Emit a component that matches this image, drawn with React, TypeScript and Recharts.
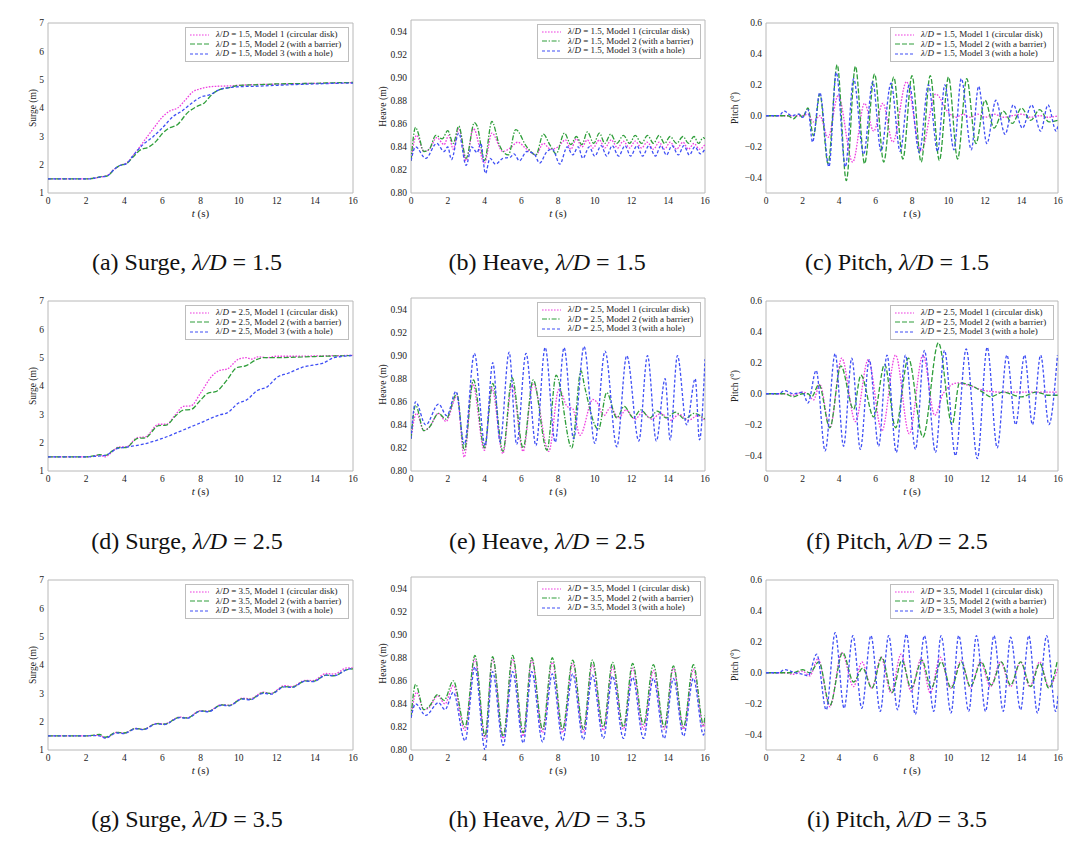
import React from 'react';
import { LineChart, Line, XAxis, YAxis, ReferenceArea, Legend } from 'recharts';

type Pt = [number, number];

// time axis
const xTicks = [0, 2, 4, 6, 8, 10, 12, 14, 16];
const surgeTicks = [1, 2, 3, 4, 5, 6, 7];
const heaveTicks = [0.8, 0.82, 0.84, 0.86, 0.88, 0.9, 0.92, 0.94];
const pitchTicks = [-0.4, -0.2, 0, 0.2, 0.4, 0.6];

const ratios = ['1.5', '2.5', '3.5'];
const letters = ['a', 'b', 'c', 'd', 'e', 'f', 'g', 'h', 'i'];
const modelNames = ['Model 1 (circular disk)', 'Model 2 (with a barrier)', 'Model 3 (with a hole)'];

// ---- lambda/D = 1.5 ----
const s15m1: Pt[] = [[0,1.5],[1,1.5],[2,1.5],[2.4,1.52],[2.8,1.57],[3.1,1.62],[3.5,1.85],[3.8,1.98],[4.1,2.05],[4.5,2.35],[5,2.8],[5.5,3.25],[6,3.68],[6.4,3.9],[6.8,4.0],[7.2,4.28],[7.6,4.57],[8,4.68],[8.5,4.75],[9,4.77],[9.5,4.78],[10,4.8],[11,4.83],[12,4.84],[13,4.86],[14,4.87],[15,4.88],[16,4.9]];
const s15m2: Pt[] = [[0,1.5],[1,1.5],[2,1.5],[2.4,1.52],[2.8,1.58],[3.1,1.6],[3.5,1.85],[3.8,1.98],[4.1,2.03],[4.5,2.3],[4.8,2.5],[5.3,2.63],[5.7,2.85],[6,3.1],[6.3,3.27],[6.8,3.42],[7.3,3.82],[7.8,4.05],[8.2,4.18],[8.6,4.48],[9,4.65],[9.5,4.72],[10,4.8],[11,4.82],[12,4.85],[13,4.86],[14,4.87],[15,4.89],[16,4.9]];
const s15m3: Pt[] = [[0,1.5],[1,1.5],[2,1.5],[2.4,1.52],[2.8,1.57],[3.1,1.6],[3.5,1.85],[3.8,1.98],[4.1,2.03],[4.5,2.35],[5,2.72],[5.5,2.98],[6,3.3],[6.6,3.72],[7,3.88],[7.5,4.15],[8,4.38],[8.5,4.47],[9,4.65],[9.5,4.72],[10,4.75],[11,4.77],[12,4.8],[13,4.83],[14,4.85],[15,4.87],[16,4.88]];

const h15m1: Pt[] = [[0,0.828],[0.3,0.85],[0.7,0.836],[1.0,0.838],[1.4,0.848],[1.8,0.842],[2.05,0.85],[2.3,0.838],[2.6,0.856],[3.0,0.828],[3.4,0.856],[4.0,0.826],[4.4,0.852],[5.0,0.836],[5.4,0.839],[5.8,0.844],[6.3,0.838],[6.8,0.833],[7.2,0.843],[7.6,0.838],[8.0,0.84],[8.4,0.846],[8.7,0.838],[9.0,0.847],[9.3,0.84],[9.6,0.846],[9.9,0.839],[10.25,0.846],[10.55,0.839],[10.9,0.846],[11.25,0.839],[11.55,0.845],[11.9,0.839],[12.2,0.845],[12.55,0.839],[12.85,0.844],[13.2,0.838],[13.5,0.844],[13.8,0.838],[14.1,0.844],[14.45,0.838],[14.8,0.844],[15.1,0.838],[15.4,0.843],[15.7,0.838],[16,0.842]];
const h15m2: Pt[] = [[0,0.828],[0.25,0.857],[0.35,0.854],[0.7,0.836],[1.0,0.838],[1.35,0.85],[1.7,0.847],[2.0,0.854],[2.3,0.843],[2.6,0.858],[3.0,0.83],[3.45,0.861],[3.6,0.858],[4.0,0.828],[4.4,0.862],[4.8,0.842],[5.3,0.833],[5.7,0.855],[6.3,0.84],[6.8,0.833],[7.2,0.851],[7.55,0.842],[7.9,0.834],[8.35,0.852],[8.7,0.842],[9.0,0.849],[9.3,0.842],[9.6,0.853],[9.95,0.843],[10.25,0.852],[10.55,0.843],[10.87,0.851],[11.2,0.843],[11.56,0.85],[11.9,0.843],[12.2,0.85],[12.55,0.843],[12.87,0.85],[13.2,0.843],[13.5,0.85],[13.8,0.843],[14.1,0.849],[14.45,0.843],[14.8,0.849],[15.1,0.843],[15.4,0.849],[15.65,0.843],[15.9,0.848],[16,0.847]];
const h15m3: Pt[] = [[0,0.828],[0.25,0.84],[0.8,0.83],[1.4,0.843],[1.8,0.836],[2.0,0.84],[2.2,0.829],[2.6,0.852],[3.0,0.824],[3.3,0.84],[3.6,0.835],[3.8,0.843],[4.05,0.817],[4.3,0.83],[4.6,0.825],[5.0,0.83],[5.4,0.831],[5.6,0.834],[5.9,0.828],[6.3,0.836],[6.7,0.834],[7.0,0.826],[7.4,0.836],[7.7,0.838],[8.1,0.825],[8.5,0.84],[8.8,0.833],[9.1,0.84],[9.35,0.83],[9.7,0.84],[10.0,0.832],[10.35,0.841],[10.65,0.832],[10.95,0.841],[11.3,0.832],[11.65,0.841],[11.95,0.832],[12.3,0.841],[12.6,0.832],[12.95,0.841],[13.3,0.832],[13.6,0.841],[13.9,0.833],[14.2,0.841],[14.55,0.833],[14.85,0.841],[15.15,0.833],[15.45,0.84],[15.75,0.834],[16,0.838]];

const p15m1: Pt[] = [[0,0],[1,0],[2,0],[2.3,0.01],[2.6,-0.04],[2.95,0.0],[3.4,-0.14],[3.95,0.13],[4.75,-0.3],[5.4,0.08],[5.9,-0.1],[6.4,0.08],[6.95,-0.17],[7.7,0.22],[8.5,-0.23],[9.3,0.14],[10.0,0.02],[10.4,-0.01],[10.8,0.01],[11.2,-0.01],[11.6,0.01],[12,-0.01],[12.5,0.01],[13,-0.01],[13.5,0.0],[14,0.01],[14.5,-0.01],[15,0.0],[15.5,-0.01],[16,0.0]];
const p15m2: Pt[] = [[0,0],[1.2,0],[1.5,-0.02],[1.8,0.01],[2.0,-0.01],[2.3,0.05],[2.6,-0.13],[2.95,0.14],[3.4,-0.31],[3.9,0.33],[4.4,-0.42],[4.9,0.32],[5.4,-0.31],[5.95,0.27],[6.45,-0.3],[7.0,0.25],[7.5,-0.28],[8.0,0.26],[8.5,-0.3],[9.0,0.26],[9.5,-0.29],[10.0,0.25],[10.5,-0.28],[11.0,0.24],[11.5,-0.18],[12.0,0.1],[12.5,-0.08],[13.0,0.03],[13.5,-0.05],[14.0,0.05],[14.5,-0.03],[15.0,0.04],[15.5,-0.04],[16,-0.03]];
const p15m3: Pt[] = [[0,0],[0.7,0.0],[1.0,0.03],[1.4,0.0],[1.8,0.01],[2.0,-0.01],[2.3,0.04],[2.55,-0.17],[2.95,0.15],[3.45,-0.33],[3.85,0.28],[4.35,-0.33],[4.8,0.24],[5.35,-0.25],[5.85,0.22],[6.3,-0.23],[6.85,0.21],[7.35,-0.23],[7.85,0.2],[8.4,-0.24],[8.9,0.2],[9.4,-0.23],[9.8,0.2],[10.3,-0.22],[10.7,0.24],[11.25,-0.22],[11.65,0.19],[12.1,-0.18],[12.6,0.1],[13.1,-0.12],[13.55,0.07],[14.05,-0.08],[14.55,0.07],[15.05,-0.1],[15.45,0.07],[15.9,-0.1],[16,-0.06]];

// ---- lambda/D = 2.5 ----
const s25m1: Pt[] = [[0,1.5],[1,1.5],[2,1.5],[2.4,1.52],[2.7,1.57],[3.0,1.5],[3.4,1.7],[3.7,1.85],[4.1,1.85],[4.7,2.18],[5.1,2.2],[5.8,2.65],[6.2,2.65],[6.7,3.0],[7.1,3.28],[7.5,3.3],[8.0,3.75],[8.6,4.35],[9.0,4.55],[9.4,4.6],[10.0,4.95],[10.4,5.0],[10.7,4.95],[11.0,5.03],[11.5,5.0],[12,5.05],[13,5.05],[14,5.06],[15,5.07],[16,5.08]];
const s25m2: Pt[] = [[0,1.5],[1,1.5],[2,1.5],[2.4,1.53],[2.7,1.58],[3.0,1.55],[3.4,1.72],[3.7,1.82],[4.1,1.83],[4.7,2.15],[5.1,2.17],[5.8,2.6],[6.2,2.62],[6.7,2.95],[7.1,3.15],[7.5,3.17],[8.0,3.5],[8.4,3.75],[8.8,3.8],[9.4,4.22],[9.9,4.65],[10.4,4.72],[10.9,4.92],[11.3,5.0],[12,5.0],[13,5.02],[14,5.04],[15,5.06],[16,5.08]];
const s25m3: Pt[] = [[0,1.5],[1,1.5],[2,1.5],[2.5,1.52],[3.0,1.55],[3.6,1.78],[4.2,1.85],[5.0,1.95],[6.0,2.15],[7.0,2.42],[8.0,2.7],[9.0,2.98],[9.4,3.05],[10.0,3.4],[10.4,3.5],[11.0,3.85],[11.5,3.97],[12.0,4.3],[12.6,4.45],[13.3,4.65],[14.0,4.75],[14.4,4.8],[15.0,5.0],[15.5,5.05],[16,5.08]];

const h25m1: Pt[] = [[0,0.828],[0.3,0.85],[0.7,0.835],[1.0,0.838],[1.5,0.85],[1.9,0.843],[2.5,0.865],[2.9,0.812],[3.35,0.876],[4.0,0.818],[4.4,0.872],[5.0,0.815],[5.5,0.875],[6.1,0.817],[6.65,0.876],[7.5,0.817],[8.05,0.871],[8.5,0.856],[8.8,0.854],[9.2,0.831],[9.9,0.862],[10.1,0.86],[10.5,0.848],[10.85,0.855],[11.3,0.846],[11.7,0.853],[12.2,0.845],[12.6,0.851],[13.1,0.845],[13.6,0.85],[14.1,0.844],[14.6,0.849],[15.1,0.844],[15.6,0.848],[16,0.844]];
const h25m2: Pt[] = [[0,0.828],[0.25,0.857],[0.7,0.835],[1.0,0.838],[1.5,0.85],[1.9,0.845],[2.5,0.867],[2.9,0.818],[3.4,0.879],[4.0,0.82],[4.45,0.876],[5.0,0.817],[5.5,0.881],[6.1,0.82],[6.65,0.879],[7.4,0.818],[7.9,0.883],[8.75,0.82],[9.25,0.887],[9.45,0.873],[10.2,0.836],[10.65,0.868],[11.2,0.846],[11.6,0.856],[12.1,0.846],[12.5,0.853],[13.0,0.846],[13.4,0.852],[13.9,0.846],[14.4,0.851],[14.9,0.845],[15.4,0.85],[16,0.845]];
const h25m3: Pt[] = [[0,0.828],[0.25,0.86],[0.8,0.84],[1.5,0.858],[1.95,0.848],[2.45,0.869],[2.9,0.823],[3.45,0.902],[4.03,0.822],[4.45,0.894],[4.85,0.825],[5.34,0.903],[5.75,0.823],[6.26,0.902],[6.8,0.822],[7.3,0.907],[7.85,0.825],[8.33,0.907],[8.85,0.828],[9.42,0.908],[10.0,0.824],[10.56,0.904],[11.2,0.821],[11.74,0.9],[12.4,0.826],[12.87,0.9],[13.35,0.826],[13.83,0.88],[14.1,0.827],[14.5,0.9],[15.0,0.84],[15.47,0.88],[15.7,0.827],[16,0.897]];

const p25m1: Pt[] = [[0,0],[1,0],[1.5,-0.01],[2.0,0.01],[2.3,0.0],[2.6,-0.04],[2.95,0.06],[3.5,-0.22],[4.15,0.23],[4.9,-0.18],[5.6,0.22],[6.35,-0.24],[7.1,0.25],[7.85,-0.26],[8.6,0.25],[9.25,-0.14],[9.7,0.0],[10.5,0.07],[11.2,0.05],[12.0,0.02],[13,0.01],[14,0.01],[15,0.01],[16,0.01]];
const p25m2: Pt[] = [[0,0],[1,0],[1.5,-0.02],[2.0,0.0],[2.3,0.0],[2.5,-0.02],[2.9,0.06],[3.5,-0.22],[4.1,0.18],[4.8,-0.1],[5.2,0.12],[5.9,-0.15],[6.5,0.19],[7.1,-0.22],[7.8,0.23],[8.6,-0.28],[9.45,0.33],[10.2,-0.2],[10.6,0.07],[11.3,0.05],[12.0,0.0],[12.3,-0.02],[13.0,0.01],[13.6,-0.01],[14.0,-0.02],[14.8,0.01],[15.5,-0.01],[16,-0.01]];
const p25m3: Pt[] = [[0,0],[0.7,0],[1.0,0.02],[1.5,0.0],[2.0,0.01],[2.3,-0.06],[2.75,0.15],[3.24,-0.37],[3.79,0.26],[4.25,-0.34],[4.7,0.23],[5.17,-0.36],[5.66,0.22],[6.17,-0.34],[6.63,0.25],[7.14,-0.38],[7.64,0.25],[8.19,-0.36],[8.68,0.28],[9.29,-0.38],[9.78,0.28],[10.38,-0.4],[10.97,0.29],[11.58,-0.42],[12.12,0.3],[12.67,-0.35],[13.2,0.25],[13.68,-0.2],[14.17,0.25],[14.6,-0.2],[15.05,0.25],[15.5,-0.2],[15.97,0.25]];

// ---- lambda/D = 3.5 ----
const s35m1: Pt[] = [[0,1.5],[1,1.5],[2,1.5],[2.5,1.52],[2.7,1.53],[3.0,1.43],[3.6,1.62],[4.0,1.6],[4.6,1.76],[5.0,1.73],[5.7,1.94],[6.1,1.92],[6.9,2.16],[7.3,2.14],[8.0,2.39],[8.4,2.37],[9.1,2.6],[9.5,2.58],[10.2,2.83],[10.6,2.81],[11.3,3.04],[11.7,3.0],[12.4,3.27],[12.8,3.24],[13.5,3.46],[13.9,3.45],[14.6,3.7],[15.0,3.68],[15.7,3.9],[16,3.9]];
const s35m2: Pt[] = [[0,1.5],[1,1.5],[2,1.5],[2.5,1.53],[2.7,1.55],[3.0,1.45],[3.6,1.62],[4.0,1.6],[4.6,1.76],[5.0,1.73],[5.7,1.93],[6.1,1.91],[6.9,2.15],[7.3,2.13],[8.0,2.38],[8.4,2.36],[9.1,2.59],[9.5,2.57],[10.2,2.81],[10.6,2.79],[11.3,3.02],[11.7,2.99],[12.4,3.24],[12.8,3.22],[13.5,3.44],[13.9,3.42],[14.6,3.64],[15.0,3.62],[15.7,3.84],[16,3.86]];
const s35m3: Pt[] = [[0,1.5],[1,1.5],[2,1.5],[2.5,1.51],[2.7,1.5],[3.0,1.42],[3.6,1.6],[4.0,1.58],[4.6,1.75],[5.0,1.72],[5.7,1.92],[6.1,1.9],[6.9,2.14],[7.3,2.12],[8.0,2.37],[8.4,2.35],[9.1,2.58],[9.5,2.56],[10.2,2.8],[10.6,2.77],[11.3,3.0],[11.7,2.97],[12.4,3.23],[12.8,3.21],[13.5,3.43],[13.9,3.41],[14.6,3.64],[15.0,3.62],[15.7,3.84],[16,3.88]];

const h35m1: Pt[] = [[0,0.828],[0.3,0.85],[0.7,0.835],[1.0,0.837],[1.45,0.847],[1.85,0.84],[2.3,0.856],[2.94,0.817],[3.48,0.879],[4.03,0.81],[4.44,0.879],[5.02,0.81],[5.53,0.879],[6.11,0.812],[6.57,0.878],[7.16,0.815],[7.69,0.876],[8.25,0.815],[8.8,0.875],[9.38,0.815],[9.87,0.874],[10.47,0.817],[10.97,0.872],[11.56,0.818],[12.06,0.871],[12.65,0.818],[13.19,0.869],[13.78,0.818],[14.28,0.871],[14.83,0.818],[15.37,0.87],[15.92,0.82],[16,0.826]];
const h35m2: Pt[] = [[0,0.828],[0.25,0.857],[0.7,0.835],[1.0,0.838],[1.45,0.848],[1.8,0.843],[2.3,0.86],[2.94,0.82],[3.48,0.882],[4.03,0.812],[4.44,0.881],[5.02,0.812],[5.53,0.882],[6.11,0.815],[6.57,0.88],[7.16,0.818],[7.69,0.88],[8.25,0.818],[8.8,0.878],[9.38,0.818],[9.87,0.878],[10.47,0.82],[10.97,0.876],[11.56,0.82],[12.06,0.875],[12.65,0.822],[13.19,0.874],[13.78,0.82],[14.28,0.873],[14.83,0.82],[15.37,0.874],[15.92,0.822],[16,0.83]];
const h35m3: Pt[] = [[0,0.828],[0.25,0.84],[0.8,0.83],[1.5,0.841],[1.85,0.835],[2.3,0.85],[2.94,0.808],[3.48,0.872],[4.03,0.8],[4.44,0.868],[5.02,0.804],[5.53,0.868],[6.11,0.806],[6.57,0.868],[7.16,0.807],[7.69,0.866],[8.25,0.808],[8.8,0.866],[9.38,0.809],[9.87,0.865],[10.47,0.81],[10.97,0.864],[11.56,0.81],[12.06,0.863],[12.65,0.81],[13.19,0.862],[13.78,0.81],[14.28,0.862],[14.83,0.812],[15.37,0.862],[15.92,0.813],[16,0.818]];

const p35m1: Pt[] = [[0,0],[1,0],[1.5,-0.01],[2.0,0.01],[2.4,-0.02],[2.85,0.09],[3.5,-0.22],[4.15,0.13],[4.8,-0.09],[5.25,0.07],[5.8,-0.1],[6.3,0.1],[6.85,-0.13],[7.4,0.12],[7.95,-0.12],[8.5,0.09],[9.0,-0.13],[9.55,0.1],[10.1,-0.1],[10.7,0.08],[11.2,-0.1],[11.75,0.07],[12.3,-0.09],[12.85,0.07],[13.4,-0.09],[13.95,0.07],[14.45,-0.09],[15.0,0.07],[15.5,-0.09],[16,0.03]];
const p35m2: Pt[] = [[0,0],[1,0],[1.5,0.0],[2.0,0.02],[2.4,0.0],[2.9,0.07],[3.5,-0.21],[4.2,0.13],[4.8,-0.06],[5.3,0.03],[5.8,-0.1],[6.35,0.1],[6.9,-0.13],[7.45,0.08],[7.95,-0.1],[8.55,0.08],[9.05,-0.1],[9.6,0.07],[10.15,-0.1],[10.7,0.07],[11.2,-0.09],[11.8,0.07],[12.35,-0.08],[12.9,0.07],[13.4,-0.08],[13.95,0.07],[14.5,-0.09],[15.0,0.06],[15.5,-0.1],[15.95,0.07]];
const p35m3: Pt[] = [[0,0],[0.7,0],[1.0,0.02],[1.6,0.0],[2.0,-0.01],[2.3,-0.02],[2.78,0.12],[3.3,-0.24],[3.79,0.26],[4.28,-0.23],[4.76,0.24],[5.25,-0.23],[5.75,0.24],[6.26,-0.25],[6.72,0.24],[7.21,-0.24],[7.69,0.25],[8.18,-0.27],[8.68,0.24],[9.19,-0.25],[9.59,0.24],[10.14,-0.26],[10.56,0.24],[11.11,-0.25],[11.53,0.24],[12.03,-0.25],[12.49,0.24],[13.0,-0.25],[13.4,0.23],[13.95,-0.24],[14.4,0.24],[14.87,-0.26],[15.38,0.24],[15.87,-0.25],[16,-0.15]];

const series = [
  [s15m1, s15m2, s15m3], [h15m1, h15m2, h15m3], [p15m1, p15m2, p15m3],
  [s25m1, s25m2, s25m3], [h25m1, h25m2, h25m3], [p25m1, p25m2, p25m3],
  [s35m1, s35m2, s35m3], [h35m1, h35m2, h35m3], [p35m1, p35m2, p35m3],
];

const SERIF = '"Liberation Serif", "Times New Roman", Times, serif';
const COLORS = ['#ee3fe0', '#2e9e3a', '#3f4ff5'];

const fmtMinus = (v: number) => (v < 0 ? '\u2212' + Math.abs(v).toFixed(1) : v.toFixed(1));

const kinds = [
  { title: 'Surge', yLabel: 'Surge (m)', domain: [1, 7], ticks: surgeTicks, fmt: (v: number) => String(v), dash: ['1.6 1.4', '5 2', '3 2'], yDx: 30 },
  { title: 'Heave', yLabel: 'Heave (m)', domain: [0.8, 0.95], ticks: heaveTicks, fmt: (v: number) => v.toFixed(2), dash: ['1.6 1.4', '5 1.6 1.4 1.6', '3 2'], yDx: 17 },
  { title: 'Pitch', yLabel: 'Pitch (\u00b0)', domain: [-0.5, 0.6], ticks: pitchTicks, fmt: fmtMinus, dash: ['1.6 1.4', '5 2', '3 2'], yDx: 14 },
];

// layout
const colPlot = [
  { left: 48, width: 305 },
  { left: 411, width: 294 },
  { left: 766, width: 292 },
];
const rowTop = [23, 301, 580];
const capCenters = [187, 547, 897];
const capBaseline = [270, 549, 827];
const YW = 45;
const LEG_W = 164;

const toRows = (pts: Pt[]) => pts.map(([t, v]) => ({ t, v }));

const tickStyle = { fontSize: 9.5, fontFamily: SERIF, fill: '#222' };

const PanelLegend = ({ ratio, dash }: { ratio: string; dash: string[] }) => (
  <div
    style={{
      border: '1px solid #bdbdbd',
      background: '#fff',
      padding: '2px 6px 2px 4px',
      fontFamily: SERIF,
      fontSize: 9,
      lineHeight: '9.6px',
      color: '#222',
      whiteSpace: 'nowrap',
    }}
  >
    {modelNames.map((m, i) => (
      <div key={m} style={{ display: 'flex', alignItems: 'center' }}>
        <svg width={19} height={6} style={{ marginRight: 7 }}>
          <line x1={0} y1={3} x2={19} y2={3} stroke={COLORS[i]} strokeWidth={1.2} strokeDasharray={dash[i]} />
        </svg>
        <span>
          <i>{'\u03bb'}</i>/<i>D</i> = {ratio}, {m}
        </span>
      </div>
    ))}
  </div>
);

const Panel = ({ idx }: { idx: number }) => {
  const row = Math.floor(idx / 3);
  const col = idx % 3;
  const kind = kinds[col];
  const ratio = ratios[row];
  const isHeave = col === 1;
  const mt = isHeave ? 2 : 5;
  const plotH = isHeave ? 173 : 170;
  const plotW = colPlot[col].width;
  const chartW = YW + plotW + 5;
  const chartH = 210;
  const left = colPlot[col].left - YW;
  const top = rowTop[row] - 5;

  return (
    <div style={{ position: 'absolute', left, top, width: chartW, height: chartH, fontFamily: SERIF }}>
      <LineChart
        width={chartW}
        height={chartH}
        margin={{ top: mt, right: 5, bottom: 5, left: 0 }}
        style={{ fontFamily: SERIF }}
      >
        <XAxis
          dataKey="t"
          type="number"
          domain={[0, 16]}
          ticks={xTicks}
          allowDataOverflow
          axisLine={false}
          tickLine={false}
          tickSize={3}
          tickMargin={1}
          height={30}
          tick={tickStyle}
          label={{
            content: (p: any) => {
              const vb = p.viewBox || { x: YW, y: mt + plotH, width: plotW };
              return (
                <text x={vb.x + vb.width / 2} y={vb.y + 24} textAnchor="middle" fontSize={11} fontFamily={SERIF} fill="#222">
                  <tspan fontStyle="italic">t</tspan>
                  <tspan> (s)</tspan>
                </text>
              );
            },
          }}
        />
        <YAxis
          type="number"
          domain={kind.domain}
          ticks={kind.ticks}
          allowDataOverflow
          width={YW}
          axisLine={false}
          tickLine={false}
          tickSize={3}
          tickMargin={1}
          tickFormatter={kind.fmt}
          tick={tickStyle}
          label={{
            content: (p: any) => {
              const vb = p.viewBox || { x: 0, y: mt, height: plotH };
              const cx = vb.x + kind.yDx;
              const cy = vb.y + vb.height / 2;
              return (
                <text
                  x={cx}
                  y={cy}
                  transform={`rotate(-90 ${cx} ${cy})`}
                  textAnchor="middle"
                  dominantBaseline="central"
                  fontSize={9.5}
                  fontFamily={SERIF}
                  fill="#222"
                >
                  {kind.yLabel}
                </text>
              );
            },
          }}
        />
        <ReferenceArea
          x1={0}
          x2={16}
          y1={kind.domain[0]}
          y2={kind.domain[1]}
          fill="none"
          stroke="#b8b8b8"
          strokeWidth={1}
          ifOverflow="visible"
        />
        {series[idx].map((pts, i) => (
          <Line
            key={i}
            data={toRows(pts)}
            dataKey="v"
            name={modelNames[i]}
            type="monotone"
            stroke={COLORS[i]}
            strokeWidth={1.3}
            strokeDasharray={kind.dash[i]}
            dot={false}
            activeDot={false}
            isAnimationActive={false}
          />
        ))}
        <Legend
          layout="vertical"
          align="center"
          verticalAlign="middle"
          wrapperStyle={{ left: YW + plotW - 4 - LEG_W, top: mt + 4, width: LEG_W, bottom: 'auto', right: 'auto' }}
          content={() => <PanelLegend ratio={ratio} dash={kind.dash} />}
        />
      </LineChart>
    </div>
  );
};

const Caption = ({ idx }: { idx: number }) => {
  const row = Math.floor(idx / 3);
  const col = idx % 3;
  return (
    <div
      style={{
        position: 'absolute',
        left: capCenters[col] - 180,
        top: capBaseline[row] - 20,
        width: 360,
        textAlign: 'center',
        fontFamily: SERIF,
        fontSize: 24,
        lineHeight: '24px',
        color: '#111',
        whiteSpace: 'nowrap',
      }}
    >
      ({letters[idx]}) {kinds[col].title}, <i>{'\u03bb'}/D</i> = {ratios[row]}
    </div>
  );
};

export default function App() {
  const idxs = [0, 1, 2, 3, 4, 5, 6, 7, 8];
  return (
    <div style={{ position: 'absolute', left: 0, top: 0, width: 1080, height: 848, background: '#fff', overflow: 'hidden', fontFamily: SERIF }}>
      {idxs.map((i) => (
        <Panel key={`p${i}`} idx={i} />
      ))}
      {idxs.map((i) => (
        <Caption key={`c${i}`} idx={i} />
      ))}
    </div>
  );
}
